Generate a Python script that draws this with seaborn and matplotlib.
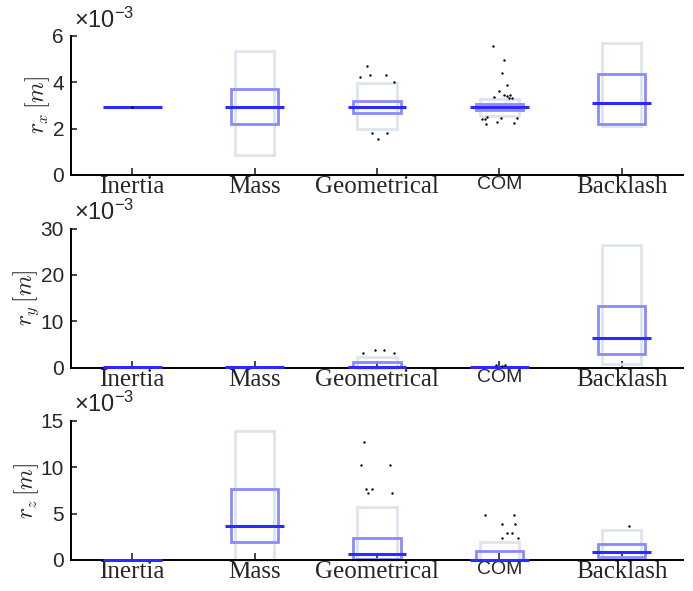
import numpy as np
import matplotlib
matplotlib.use("Agg")
import matplotlib.pyplot as plt
import seaborn as sns

# categorias e estatisticas (valores em 1e-3 m)
categorias = ["Inertia", "Mass", "Geometrical", "COM", "Backlash"]

# r_x
rx_wlo = [2.93, 0.86, 2.00, 2.54, 2.10]
rx_q1 = [2.93, 2.19, 2.67, 2.81, 2.21]
rx_med = [2.93, 2.93, 2.93, 2.93, 3.10]
rx_q3 = [2.93, 3.71, 3.21, 3.04, 4.36]
rx_whi = [2.93, 5.36, 3.97, 3.26, 5.71]
rx_out_cat = [0] + [2] * 8 + [3] * 19
rx_out_dx = [0.0,
             -0.08, -0.14, -0.06, 0.07, 0.14, -0.04, 0.01, 0.08,
             -0.05, 0.04, 0.02, 0.06, 0.0, -0.04, 0.04, 0.06, 0.09, 0.08, 0.10,
             -0.10, -0.12, -0.14, -0.11, -0.02, 0.01, 0.12, 0.14]
rx_out_val = [2.93,
              4.69, 4.21, 4.33, 4.31, 4.03, 1.81, 1.56, 1.79,
              5.54, 4.96, 4.40, 3.87, 3.61, 3.37, 3.47, 3.39, 3.47, 3.31, 3.30,
              2.50, 2.40, 2.42, 2.19, 2.28, 2.47, 2.26, 2.47]

# r_y
ry_wlo = [0.05, 0.05, 0.00, 0.05, 0.80]
ry_q1 = [0.05, 0.05, 0.05, 0.05, 3.00]
ry_med = [0.05, 0.05, 0.20, 0.05, 6.30]
ry_q3 = [0.05, 0.05, 1.23, 0.05, 13.40]
ry_whi = [0.05, 0.05, 2.38, 0.05, 26.50]
ry_out_cat = [2, 2, 2, 2, 3, 3, 3]
ry_out_dx = [-0.115, -0.02, 0.06, 0.14, -0.03, 0.02, 0.05]
ry_out_val = [3.10, 3.83, 3.83, 3.10, 0.5, 0.4, 0.6]

# r_z
rz_wlo = [0.02, 0.05, 0.05, 0.02, 0.10]
rz_q1 = [0.02, 1.92, 0.08, 0.05, 0.36]
rz_med = [0.02, 3.69, 0.65, 0.05, 0.83]
rz_q3 = [0.02, 7.67, 2.35, 0.94, 1.70]
rz_whi = [0.02, 13.85, 5.71, 1.99, 3.25]
rz_out_cat = [2] * 7 + [3] * 8 + [4]
rz_out_dx = [-0.11, -0.13, 0.11, -0.09, -0.04, -0.07, 0.12,
             -0.12, 0.12, 0.02, 0.13, 0.06, 0.10, 0.02, 0.15,
             0.06]
rz_out_val = [12.76, 10.23, 10.23, 7.67, 7.67, 7.23, 7.23,
              4.88, 4.88, 3.90, 3.90, 2.89, 2.89, 2.42, 2.42,
              3.61]

paineis = [
    (rx_wlo, rx_q1, rx_med, rx_q3, rx_whi, rx_out_cat, rx_out_dx, rx_out_val, r"$r_x\,[m]$", 6, [0, 2, 4, 6]),
    (ry_wlo, ry_q1, ry_med, ry_q3, ry_whi, ry_out_cat, ry_out_dx, ry_out_val, r"$r_y\,[m]$", 30, [0, 10, 20, 30]),
    (rz_wlo, rz_q1, rz_med, rz_q3, rz_whi, rz_out_cat, rz_out_dx, rz_out_val, r"$r_z\,[m]$", 15, [0, 5, 10, 15]),
]

sns.set_style("ticks")
plt.rcParams["font.family"] = ["Liberation Sans", "DejaVu Sans"]
plt.rcParams["mathtext.fontset"] = "custom"
plt.rcParams["mathtext.rm"] = "Liberation Sans"
plt.rcParams["mathtext.it"] = "Liberation Sans:italic"

fig = plt.figure(figsize=(6.93, 5.91), dpi=100)
bottoms = [0.7039, 0.3778, 0.0525]
altura = 0.2355

cor_ext = "#dde5ec"
cor_int = "#8a8aff"
cor_med = "#2b2bff"

for (wlo, q1, med, q3, whi, ocat, odx, oval, ylab, ymax, yt), b in zip(paineis, bottoms):
    ax = fig.add_axes([0.1025, b, 0.883, altura])
    pos = np.arange(1, len(categorias) + 1)

    # caixa externa (bigodes) e caixa interna (quartis)
    ax.bar(pos, np.array(whi) - np.array(wlo), bottom=wlo, width=0.32,
           fill=False, edgecolor=cor_ext, linewidth=2.0, zorder=2, clip_on=False)
    ax.bar(pos, np.array(q3) - np.array(q1), bottom=q1, width=0.385,
           fill=False, edgecolor=cor_int, linewidth=2.0, zorder=3, clip_on=False)
    ax.hlines(med, pos - 0.24, pos + 0.24, colors=cor_med, linewidth=2.2,
              zorder=7, clip_on=False)

    # outliers
    ox = pos[np.array(ocat)] + np.array(odx)
    sns.scatterplot(x=ox, y=oval, ax=ax, color="black", s=3, linewidth=0, zorder=8)

    ax.set_xlim(0.5, 5.5)
    ax.set_ylim(0, ymax)
    ax.set_yticks(yt)
    ax.set_xticks(pos)
    ax.set_xticklabels(categorias)
    for lab in ax.get_xticklabels():
        if lab.get_text() == "COM":
            lab.set_fontfamily("Liberation Sans")
            lab.set_fontsize(14)
        else:
            lab.set_fontfamily("Liberation Serif")
            lab.set_fontsize(18)
    ax.tick_params(axis="y", direction="in", length=4, width=1.2, labelsize=15, pad=5)
    ax.tick_params(axis="x", direction="in", length=5, width=1.2, pad=1)
    sns.despine(ax=ax)
    for s in ["left", "bottom"]:
        ax.spines[s].set_linewidth(1.4)
        ax.spines[s].set_color("black")
        ax.spines[s].set_zorder(5)

    ax.set_ylabel(ylab, fontsize=17, math_fontfamily="cm", labelpad=0)
    ax.text(0.005, 1.115, r"$\times10^{-3}$", transform=ax.transAxes,
            fontsize=17, va="center", ha="left", math_fontfamily="custom")

fig.savefig("out.png", dpi=100)
